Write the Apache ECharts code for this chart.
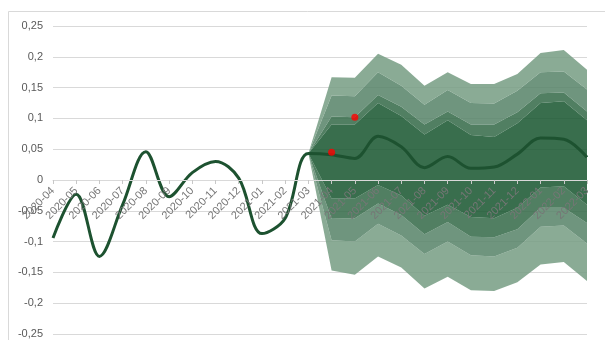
<!DOCTYPE html>
<html>
<head>
<meta charset="utf-8">
<script src="https://cdn.jsdelivr.net/npm/echarts@6/dist/echarts.min.js"></script>
<style>
  html, body { margin: 0; padding: 0; background: #ffffff; }
  #chart { width: 605px; height: 340px; }
</style>
</head>
<body>
<div id="chart"></div>
<script>
// Monthly categories
const months = [
  '2020-04','2020-05','2020-06','2020-07','2020-08','2020-09','2020-10','2020-11',
  '2020-12','2021-01','2021-02','2021-03','2021-04','2021-05','2021-06','2021-07',
  '2021-08','2021-09','2021-10','2021-11','2021-12','2022-01','2022-02','2022-03'
];

// Central path (history followed by central projection)
const central = [
  -0.094, -0.023, -0.124, -0.040, 0.046, -0.027, 0.012, 0.030,
  0.003, -0.087, -0.062, 0.043, 0.041, 0.035, 0.071, 0.054,
  0.020, 0.038, 0.019, 0.021, 0.042, 0.068, 0.066, 0.037
];

// Outcomes observed after the projection start
const observed = [
  null, null, null, null, null, null, null, null,
  null, null, null, null, 0.045, 0.102, null, null,
  null, null, null, null, null, null, null, null
];

// Fan band bounds, from 2021-03 to 2022-03 (outer = 1, inner = 4)
const upper1 = [0.043, 0.167, 0.166, 0.205, 0.187, 0.153, 0.175, 0.156, 0.156, 0.172, 0.206, 0.211, 0.179];
const upper2 = [0.043, 0.137, 0.136, 0.175, 0.153, 0.122, 0.146, 0.125, 0.124, 0.145, 0.175, 0.176, 0.147];
const upper3 = [0.043, 0.103, 0.102, 0.138, 0.119, 0.090, 0.111, 0.090, 0.090, 0.110, 0.141, 0.142, 0.111];
const upper4 = [0.043, 0.090, 0.090, 0.125, 0.104, 0.074, 0.097, 0.073, 0.070, 0.092, 0.125, 0.128, 0.097];
const lower4 = [0.043, -0.030, -0.030, -0.008, -0.025, -0.058, -0.040, -0.060, -0.062, -0.045, -0.012, -0.010, -0.040];
const lower3 = [0.043, -0.063, -0.062, -0.038, -0.057, -0.088, -0.068, -0.092, -0.093, -0.080, -0.045, -0.045, -0.070];
const lower2 = [0.043, -0.098, -0.100, -0.071, -0.090, -0.120, -0.100, -0.122, -0.124, -0.110, -0.076, -0.074, -0.103];
const lower1 = [0.043, -0.147, -0.154, -0.124, -0.142, -0.176, -0.157, -0.179, -0.180, -0.166, -0.137, -0.133, -0.164];

// Y axis range and step
const yMin = -0.25, yMax = 0.25, yStep = 0.05;

// Band shades, outer to inner
const bandColors = ['rgb(117,156,131)', 'rgb(86,131,103)', 'rgb(50,105,70)', 'rgb(22,85,46)'];

const lead = months.length - upper1.length;
const pad = arr => Array(lead).fill('-').concat(arr);

// Bounds ordered bottom to top; each stacked layer fills from the previous bound
const bounds = [lower1, lower2, lower3, lower4, upper4, upper3, upper2, upper1].map(pad);
const layerColors = [null, bandColors[0], bandColors[1], bandColors[2], bandColors[3], bandColors[2], bandColors[1], bandColors[0]];

const bandSeries = bounds.map((b, i) => {
  const data = b.map((v, j) => {
    if (v === '-') return '-';
    return i === 0 ? v : +(v - bounds[i - 1][j]).toFixed(4);
  });
  return {
    type: 'line',
    stack: 'fan',
    stackStrategy: 'all',
    data,
    symbol: 'none',
    silent: true,
    lineStyle: { width: 0, opacity: 0 },
    areaStyle: i === 0 ? null : { color: layerColors[i], opacity: 0.85 },
    z: 2
  };
});

const fmt = v => {
  const s = String(Number(v.toFixed(2)));
  return s.replace('.', ',');
};

// Plot box
const gridTop = 26, gridBottom = 6, chartH = 340;
const plotH = chartH - gridTop - gridBottom;
// Category axis sits on the zero line
const zeroOffset = -plotH * (0 - yMin) / (yMax - yMin);

const chart = echarts.init(document.getElementById('chart'), null, { renderer: 'canvas' });
chart.setOption({
  animation: false,
  backgroundColor: '#ffffff',
  textStyle: { fontFamily: 'Liberation Sans, Arial, sans-serif' },
  graphic: [{
    type: 'rect',
    shape: { x: 8.5, y: 11.5, width: 640, height: 400 },
    style: { fill: 'none', stroke: '#d9d9d9', lineWidth: 1 },
    silent: true,
    z: -10
  }],
  grid: { left: 53, right: 18, top: gridTop, bottom: gridBottom, containLabel: false },
  xAxis: {
    type: 'category',
    data: months,
    boundaryGap: false,
    position: 'bottom',
    offset: zeroOffset,
    z: 10,
    axisLine: { onZero: false, lineStyle: { color: '#d9d9d9', width: 1 } },
    axisTick: { show: true, length: 4, interval: 0, lineStyle: { color: '#c8c8c8' } },
    axisLabel: {
      interval: 0,
      rotate: 45,
      fontSize: 11,
      color: '#767676',
      margin: 9
    },
    splitLine: { show: false }
  },
  yAxis: {
    type: 'value',
    min: yMin,
    max: yMax,
    interval: yStep,
    axisLine: { show: false },
    axisTick: { show: false },
    axisLabel: { fontSize: 11, color: '#595959', margin: 10, formatter: fmt },
    splitLine: { lineStyle: { color: '#d9d9d9', width: 1 } }
  },
  series: bandSeries.concat([
    {
      type: 'line',
      data: central,
      smooth: 0.35,
      symbol: 'none',
      lineStyle: { color: '#1d5230', width: 3 },
      z: 5
    },
    {
      type: 'scatter',
      data: observed.map(v => (v === null ? '-' : v)),
      symbol: 'circle',
      symbolSize: 7,
      itemStyle: { color: '#ff0000' },
      z: 6
    }
  ])
});
</script>
</body>
</html>
